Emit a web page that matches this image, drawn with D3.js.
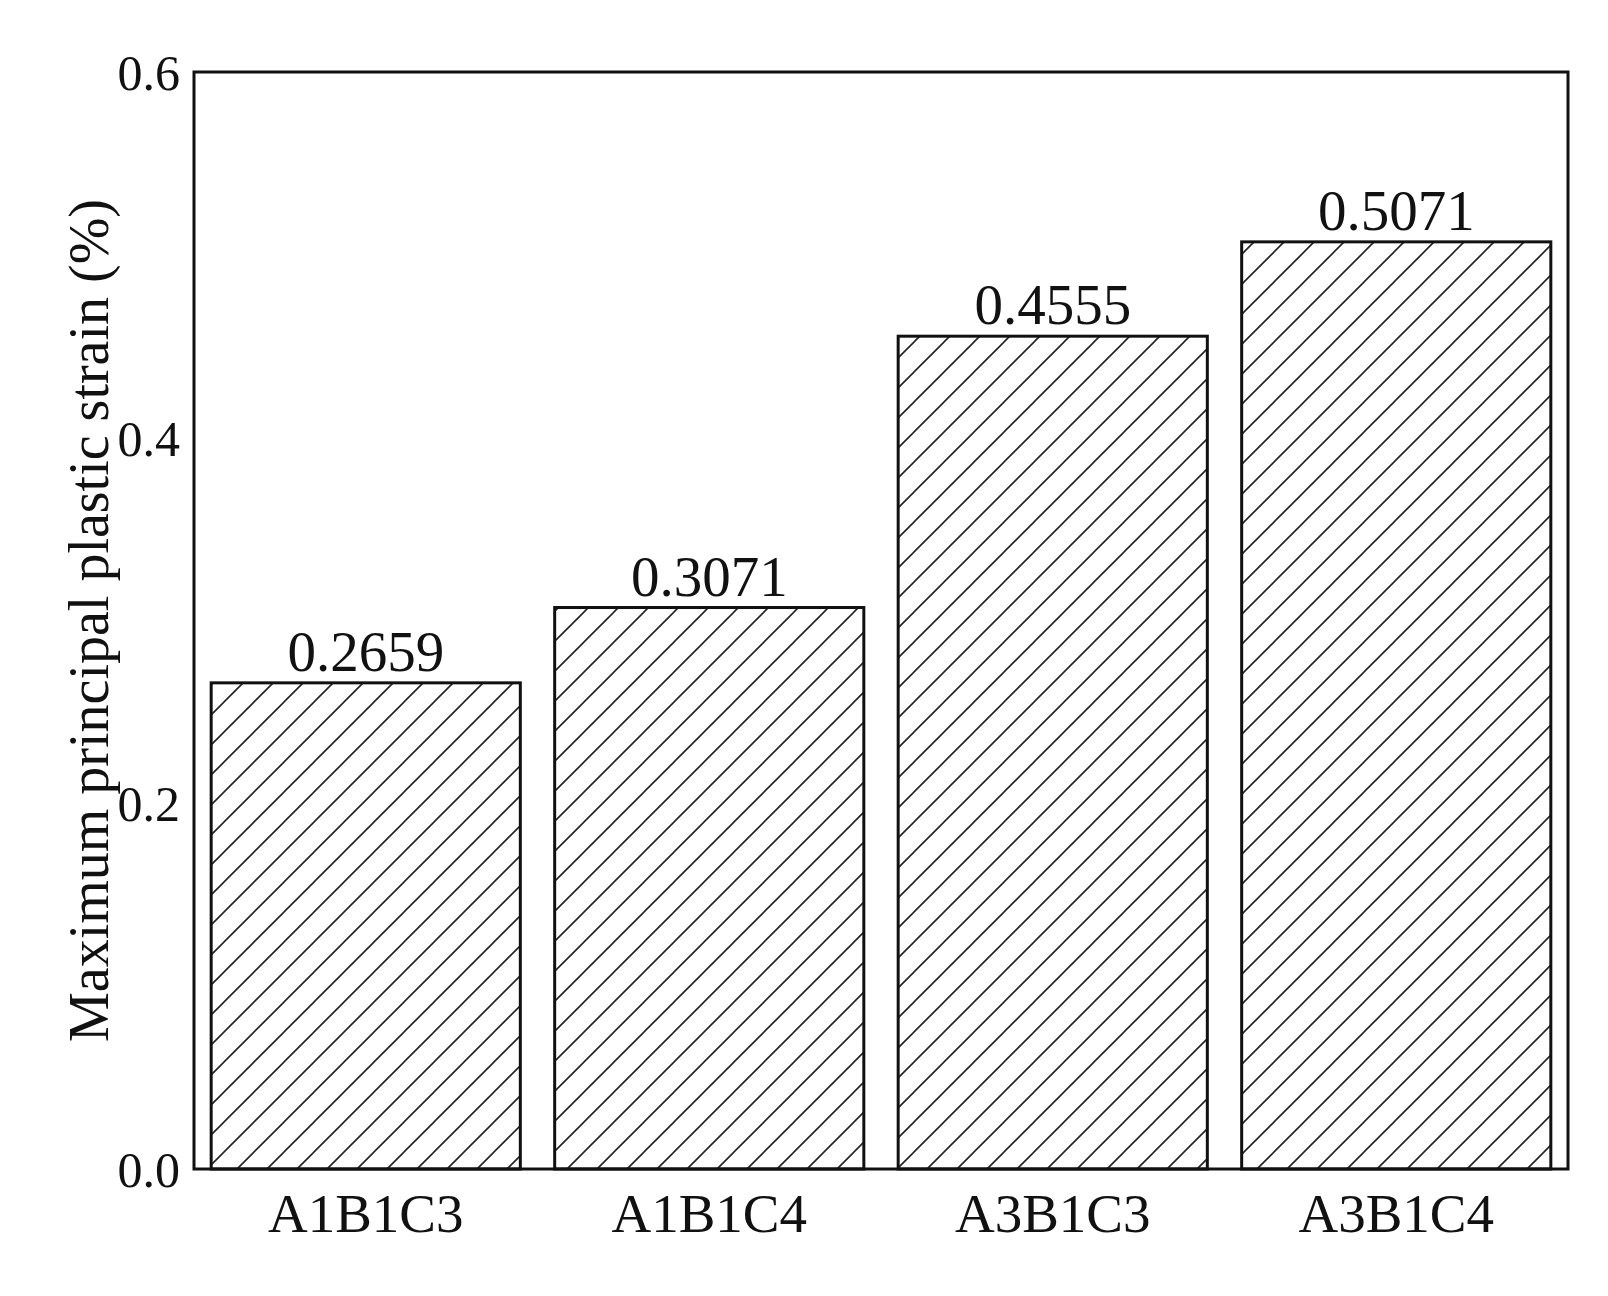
<!DOCTYPE html>
<html>
<head>
<meta charset="utf-8">
<script src="https://cdn.jsdelivr.net/npm/d3@7"></script>
<style>
  body { margin: 0; background: #fff; }
  text { font-family: "Liberation Serif", "Times New Roman", serif; fill: #111; }
</style>
</head>
<body>
<div id="plot-container"></div>
<script>
const categories = ["A1B1C3", "A1B1C4", "A3B1C3", "A3B1C4"];
const values = [0.2659, 0.3071, 0.4555, 0.5071];
const valueLabels = ["0.2659", "0.3071", "0.4555", "0.5071"];
const yTicks = [0.0, 0.2, 0.4, 0.6];

const margin = {top: 72, right: 40, bottom: 127, left: 194},
    width = 1608 - margin.left - margin.right,
    height = 1296 - margin.top - margin.bottom;

const root = d3.select("#plot-container")
  .append("svg")
    .attr("width", 1608)
    .attr("height", 1296);

// diagonal hatch pattern
root.append("defs").append("pattern")
    .attr("id", "hatch")
    .attr("patternUnits", "userSpaceOnUse")
    .attr("width", 30)
    .attr("height", 30)
  .append("path")
    .attr("d", "M-7.5,7.5 L7.5,-7.5 M0,30 L30,0 M22.5,37.5 L37.5,22.5")
    .attr("stroke", "#222")
    .attr("stroke-width", 1.6);

const svg = root.append("g")
    .attr("transform", `translate(${margin.left},${margin.top})`);

const x = d3.scaleBand()
    .domain(categories)
    .range([0, width])
    .paddingInner(0.1)
    .paddingOuter(0.05);

const y = d3.scaleLinear()
    .domain([0, 0.6])
    .range([height, 0]);

svg.selectAll("rect.bar")
    .data(values)
    .enter()
    .append("rect")
    .attr("class", "bar")
    .attr("x", (d, i) => x(categories[i]))
    .attr("y", d => y(d))
    .attr("width", x.bandwidth())
    .attr("height", d => y(0) - y(d))
    .attr("fill", "url(#hatch)")
    .attr("stroke", "#111")
    .attr("stroke-width", 3);

svg.selectAll("text.val")
    .data(values)
    .enter()
    .append("text")
    .attr("class", "val")
    .attr("x", (d, i) => x(categories[i]) + x.bandwidth() / 2)
    .attr("y", d => y(d) - 12)
    .attr("text-anchor", "middle")
    .style("font-size", "57px")
    .text((d, i) => valueLabels[i]);

// frame
svg.append("rect")
    .attr("x", 0).attr("y", 0)
    .attr("width", width).attr("height", height)
    .attr("fill", "none")
    .attr("stroke", "#111")
    .attr("stroke-width", 3);

const yAxis = svg.append("g")
    .call(d3.axisLeft(y).tickValues(yTicks).tickFormat(d3.format(".1f")).tickSize(0).tickPadding(14));
yAxis.select(".domain").remove();
yAxis.selectAll("text")
    .style("font-size", "50px")
    .attr("dy", "0.35em");

const xAxis = svg.append("g")
    .attr("transform", `translate(0,${height})`)
    .call(d3.axisBottom(x).tickSize(0).tickPadding(24));
xAxis.select(".domain").remove();
xAxis.selectAll("text")
    .style("font-size", "55px")
    .attr("dy", "0.71em");

// Y-axis label
svg.append("text")
    .attr("text-anchor", "middle")
    .attr("transform", "rotate(-90)")
    .attr("x", -height / 2)
    .attr("y", -margin.left + 108)
    .style("font-size", "56px")
    .text("Maximum principal plastic strain (%)");
</script>
</body>
</html>
